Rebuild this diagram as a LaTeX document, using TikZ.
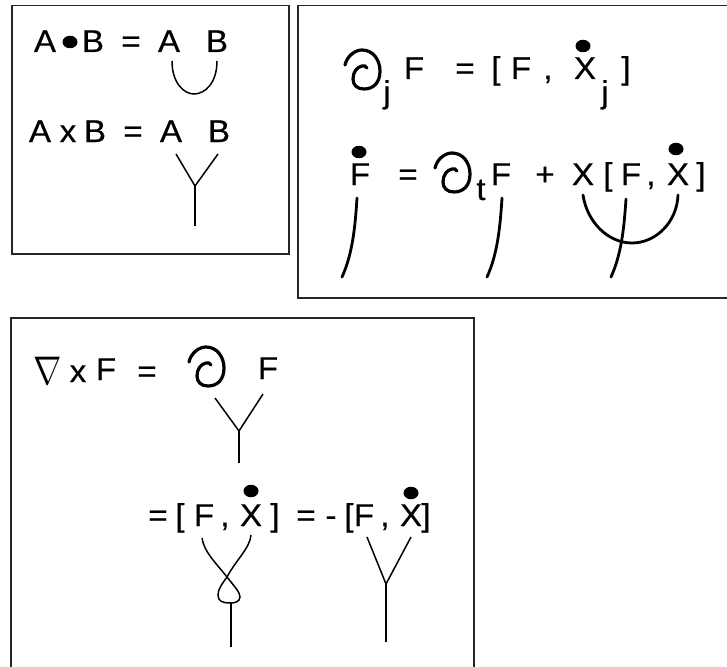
\documentclass[tikz,border=0pt]{standalone}
\usepackage{fontspec}
\setmainfont{Liberation Sans}[FakeBold=0.4]
\newfontfamily\fatfont{Liberation Sans}[FakeStretch=1.05,AutoFakeBold=0.5]
\usetikzlibrary{shapes.geometric}
\tikzset{
  txt/.style={inner sep=0pt,outer sep=0pt,anchor=base,font=\fontsize{31.5}{32}\fatfont\bfseries},
  dotmark/.style={ellipse,fill=black,inner sep=0pt,minimum width=15pt,minimum height=12.5pt},
  frame/.style={draw=black!85,line width=1.5pt},
  wire/.style={line width=1.5pt,black},
  heavy/.style={line width=2.8pt,black,line cap=round},
  curl/.style={line width=3.2pt,black,line cap=round}
}
\newcommand{\curlsym}[1]{%
  \draw[curl,shift={(#1)}] (0,0) .. controls (2,-9) and (10,-15) .. (17,-15)
     .. controls (28,-15) and (35,-5) .. (35,6)
     .. controls (35,17) and (29,24) .. (19,24)
     .. controls (12,24) and (8,20) .. (8,14)
     .. controls (8,7) and (12,2) .. (17,1)
     .. controls (19,0.5) and (21,1) .. (22,3);}
\begin{document}
\begin{tikzpicture}[x=1pt,y=-1pt]
\useasboundingbox (0,0) rectangle (727,666);
\clip (0,0) rectangle (727,666);
\fill[white] (0,0) rectangle (727,666);
% frames
\node[frame,anchor=north west,minimum width=277pt,minimum height=248pt,inner sep=0pt] (p1) at (11,5) {};
\node[frame,anchor=north west,minimum width=450pt,minimum height=292pt,inner sep=0pt] (p2) at (297,5) {};
\node[frame,anchor=north west,minimum width=463pt,minimum height=370pt,inner sep=0pt] (p3) at (10,317) {};
% panel 1
\node[txt] (a1) at (45,52) {A};
\node[dotmark] (d1) at (70,42) {};
\node[txt] (b1) at (93,52) {B};
\node[txt] (e1) at (131,52) {=};
\node[txt] (a2) at (169,52) {A};
\node[txt] (b2) at (217,52) {B};
\node[txt] (a3) at (40,142) {A};
\node[txt] (x1) at (68,142) {x};
\node[txt] (b3) at (95,142) {B};
\node[txt] (e2) at (133,142) {=};
\node[txt] (a4) at (171,142) {A};
\node[txt] (b4) at (219,142) {B};
\coordinate (ul) at (172,61);
\coordinate (ur) at (217,61);
\draw[wire] (ul) .. controls (172,83) and (184,94) .. (194,94) .. controls (205,94) and (217,83) .. (ur);
\coordinate (y1a) at (176,154);
\coordinate (y1b) at (218,154);
\coordinate (y1j) at (195,186);
\coordinate (y1s) at (195,226);
\draw[wire] (y1a) -- (y1j) -- (y1b);
\draw[wire] (y1j) -- (y1s);
% panel 2
\curlsym{345,65}
\node[txt] (j1) at (387,103) {j};
\node[txt] (f1) at (414,79) {F};
\node[txt] (e3) at (465,79) {=};
\node[txt] (l1) at (496,79) {[};
\node[txt] (f2) at (521,79) {F};
\node[txt] (c1) at (548,79) {,};
\node[txt] (x2) at (585,79) {X};
\node[dotmark] (d2) at (583,46) {};
\node[txt] (j2) at (605,103) {j};
\node[txt] (r1) at (626,79) {]};
\node[dotmark] (d3) at (359,152) {};
\node[txt] (f3) at (360,185) {F};
\node[txt] (e4) at (408,185) {=};
\curlsym{435,168}
\node[txt] (t1) at (481,200) {t};
\node[txt] (f4) at (501,185) {F};
\node[txt] (p) at (545,185) {+};
\node[txt] (x3) at (583,185) {X};
\node[txt] (l2) at (608,185) {[};
\node[txt] (f5) at (631,185) {F};
\node[txt] (c2) at (651,185) {,};
\node[txt] (x4) at (678,185) {X};
\node[dotmark] (d4) at (676,149) {};
\node[txt] (r2) at (701,185) {]};
\coordinate (w1a) at (357,198);
\coordinate (w1b) at (342,277);
\coordinate (w2a) at (502,198);
\coordinate (w2b) at (487,277);
\coordinate (w3a) at (626,199);
\coordinate (w3b) at (611,277);
\draw[heavy] (w1a) .. controls (355,230) and (352,255) .. (w1b);
\draw[heavy] (w2a) .. controls (500,230) and (497,255) .. (w2b);
\draw[heavy] (w3a) .. controls (624,230) and (621,255) .. (w3b);
\coordinate (ar1) at (583,195);
\coordinate (ar2) at (678,195);
\draw[heavy] (ar1) .. controls (587,222) and (608,243) .. (632,243) .. controls (656,243) and (677,222) .. (ar2);
% panel 3
\node[inner sep=0pt,outer sep=0pt,font=\fontsize{10}{10}\selectfont,xscale=3.4,yscale=4] (n) at (48,371) {$\nabla$};
\node[txt] (x5) at (78,382) {x};
\node[txt] (f6) at (106,380) {F};
\node[txt] (e5) at (147,382) {=};
\curlsym{189,362}
\node[txt] (f7) at (268,379) {F};
\coordinate (y2a) at (215,398);
\coordinate (y2b) at (263,394);
\coordinate (y2j) at (239,431);
\coordinate (y2s) at (239,463);
\draw[wire] (y2a) -- (y2j) -- (y2b);
\draw[wire] (y2j) -- (y2s);
\node[txt] (e6) at (158,526) {=};
\node[txt] (l3) at (180,526) {[};
\node[txt] (f8) at (204,526) {F};
\node[txt] (c3) at (225,526) {,};
\node[txt] (x6) at (251,526) {X};
\node[dotmark] (d5) at (251,491) {};
\node[txt] (r3) at (275,526) {]};
\node[txt] (e7) at (306,526) {=};
\node[txt] (m) at (331,526) {-};
\node[txt] (l4) at (349,526) {[};
\node[txt] (f9) at (364,526) {F};
\node[txt] (c4) at (385,526) {,};
\node[txt] (x7) at (411,526) {X};
\node[dotmark] (d6) at (411,493) {};
\node[txt] (r4) at (426,526) {]};
\coordinate (tl) at (202,538);
\coordinate (tr) at (251,535);
\coordinate (tc) at (227,577);
\coordinate (tb) at (231,603);
\coordinate (ts) at (231,647);
\draw[wire] (tl) .. controls (204,552) and (216,563) .. (tc)
   .. controls (234,586) and (240,592) .. (240,597)
   .. controls (240,602) and (234,603) .. (tb)
   .. controls (222,603) and (218,601) .. (218,595)
   .. controls (218,589) and (222,584) .. (tc)
   .. controls (236,560) and (250,548) .. (tr);
\draw[wire] (tb) -- (ts);
\coordinate (y3a) at (367,537);
\coordinate (y3b) at (411,537);
\coordinate (y3j) at (386,584);
\coordinate (y3s) at (386,642);
\draw[wire] (y3a) -- (y3j) -- (y3b);
\draw[wire] (y3j) -- (y3s);
\end{tikzpicture}
\end{document}
